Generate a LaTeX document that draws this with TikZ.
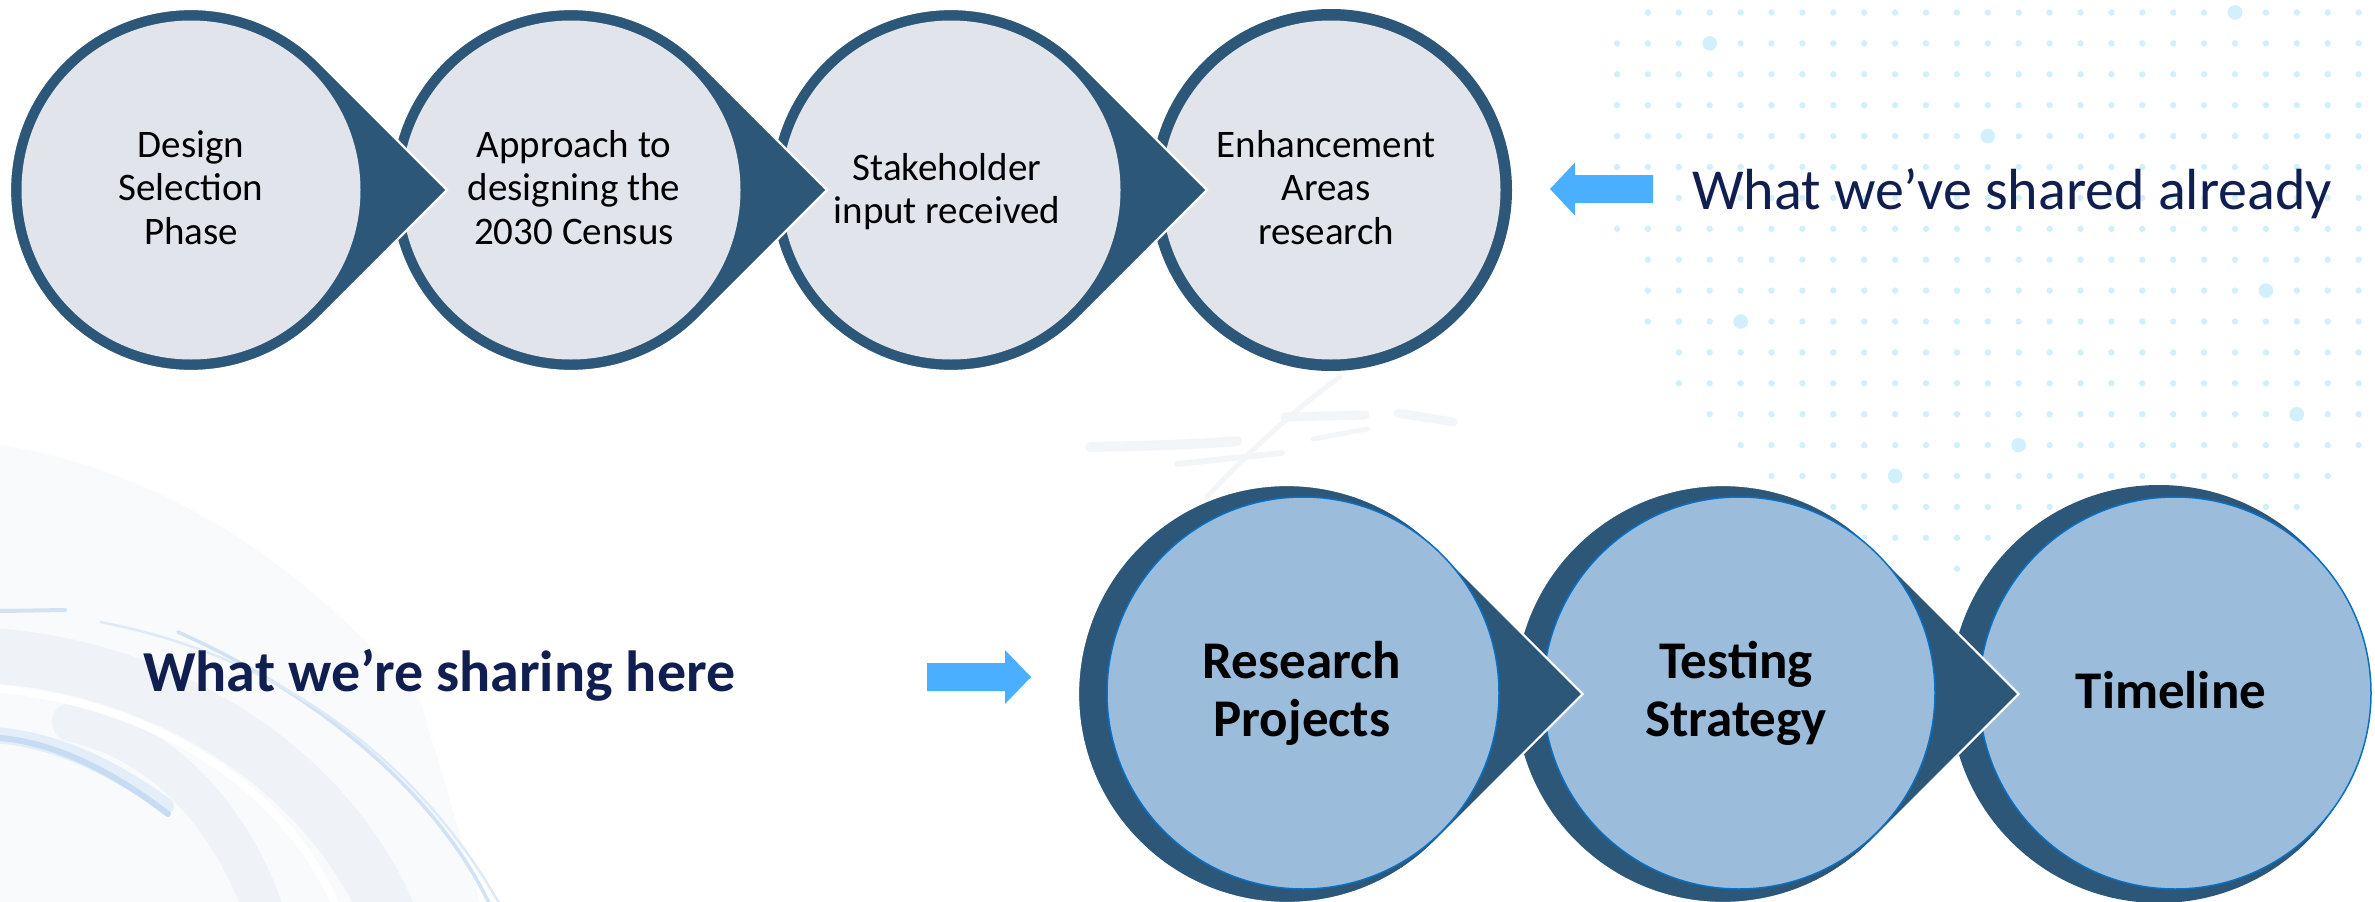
\documentclass[tikz,border=0pt]{standalone}
\usepackage{fontspec}
\setmainfont{Carlito}
\definecolor{darkb}{HTML}{2D5779}
\definecolor{topfill}{HTML}{E1E5EB}
\definecolor{botfill}{HTML}{9BBCDB}
\definecolor{botline}{HTML}{0A70C4}
\definecolor{arrowb}{HTML}{4AAFFF}
\definecolor{navy}{HTML}{111F50}
\definecolor{dotc}{HTML}{D2EFFC}
\definecolor{bandg}{HTML}{EFF2F6}
\definecolor{bandl}{HTML}{F9FAFC}
\definecolor{lineb}{HTML}{D0E2F4}
\definecolor{streak}{HTML}{F3F6F9}
\newcommand\ChevCirc[4]{% name, cx, cy, r
  \coordinate (#1) at (#2,#3);
  \fill[darkb, draw=white, line width=2.2, line join=miter]
    ({#2+#4*0.7071},{#3-#4*0.7071}) -- ({#2+#4*1.4142},{#3})
    -- ({#2+#4*0.7071},{#3+#4*0.7071})
    arc[start angle=45, end angle=315, radius=#4] -- cycle;
}
\newcommand\PlainCirc[4]{% name, cx, cy, r
  \coordinate (#1) at (#2,#3);
  \fill[darkb] (#1) circle (#4);
}
\tikzset{
  topin/.style={circle, fill=topfill, minimum size=339, inner sep=0, outer sep=0},
  botin/.style={circle, fill=botfill, draw=botline, line width=1.5, minimum size=392, inner sep=0, outer sep=0},
  tl/.style={anchor=base, inner sep=0, font=\fontsize{39}{47}\selectfont, text=black},
  bl/.style={anchor=base, inner sep=0, font=\bfseries\fontsize{53}{60}\selectfont, text=black},
  blockarrow/.style={fill=arrowb},
  sdot/.style={fill=dotc},
}
\begin{document}
\begin{tikzpicture}[x=1pt,y=-1pt]
\useasboundingbox (0,0) rectangle (2375,902);
\fill[white] (0,0) rectangle (2375,902);

% ---- faint background decoration (bottom left) ----
\fill[bandl] (0,445) .. controls (160,470) and (300,560) .. (420,700) -- (480,902) -- (0,902) -- cycle;
\draw[bandg, line width=55] (-20,655) .. controls (150,662) and (330,760) .. (395,930);
\draw[bandg, line width=40, line cap=round] (72,722) .. controls (160,740) and (235,815) .. (270,930);
\draw[white, line width=8] (-10,688) .. controls (150,700) and (300,790) .. (345,930);
\draw[lineb, line width=3.5, line cap=round] (178,632) .. controls (330,700) and (440,800) .. (490,905);
\draw[lineb!70, line width=2.5] (100,622) .. controls (300,660) and (430,780) .. (500,905);
\draw[lineb, line width=4, line cap=round] (0,611) -- (65,610);
\draw[lineb!60, line width=16, line cap=round] (-5,735) .. controls (60,740) and (120,772) .. (166,806);
\draw[lineb!120, line width=6, line cap=round] (0,738) .. controls (60,743) and (120,777) .. (168,814);

% ---- faint streaks (middle) ----
\draw[streak, line width=10, line cap=round] (1090,447) .. controls (1140,446) and (1190,445) .. (1237,441);
\draw[streak, line width=6, line cap=round] (1177,464) -- (1282,453);
\draw[streak, line width=9, line cap=round] (1285,417) -- (1365,415);
\draw[streak, line width=5, line cap=round] (1313,439) -- (1367,429);
\draw[streak, line width=9, line cap=round] (1398,413) -- (1453,422);
\draw[streak, line width=5, line cap=round] (1207,497) .. controls (1250,450) and (1300,405) .. (1340,377);

% ---- dot grid (top right) ----
\foreach \j/\a/\b in {0/1/24,1/0/24,2/0/24,3/0/24,4/0/24,5/0/24,6/0/24,7/0/24,8/1/24,9/1/24,10/1/24,11/2/24,12/2/24,13/3/24,14/4/24,15/5/23,16/7/22,17/8/12,18/11/11}{
  \foreach \k in {\a,...,\b}{
    \fill[sdot] ({1617+30.9*\k},{12.5+30.9*\j}) circle (3.2);
  }
}
\foreach \j/\k in {0/20,1/3,4/12,9/21,10/4,13/22,14/13,15/9}{
  \fill[sdot] ({1617+30.9*\k},{12.5+30.9*\j}) circle (7.3);
}

% ---- block arrows ----
\fill[blockarrow] (1653,175) -- (1575,175) -- (1575,162.5) -- (1550,189) -- (1575,215.5) -- (1575,203) -- (1653,203) -- cycle;
\fill[blockarrow] (927,663) -- (1005,663) -- (1005,650) -- (1031,677) -- (1005,704) -- (1005,691) -- (927,691) -- cycle;

% ---- top row (drawn right to left) ----
\PlainCirc{s4}{1331}{190}{181}
\node[topin] (c4) at (1331,190) {};
\ChevCirc{s3}{951}{190}{181}
\node[topin] (c3) at (951,190) {};
\ChevCirc{s2}{571}{190}{181}
\node[topin] (c2) at (571,190) {};
\ChevCirc{s1}{191}{190}{181}
\node[topin] (c1) at (191,190) {};

\node[tl] (c1a) at (191,157) {Design};
\node[tl] (c1b) at (191,200.5) {Selection};
\node[tl] (c1c) at (191,244) {Phase};
\node[tl] (c2a) at (574,157) {Approach to};
\node[tl] (c2b) at (574,200.5) {designing the};
\node[tl] (c2c) at (574,244) {2030 Census};
\node[tl] (c3a) at (947,180) {Stakeholder};
\node[tl] (c3b) at (947,223) {input received};
\node[tl] (c4a) at (1326,157) {Enhancement};
\node[tl] (c4b) at (1326,200.5) {Areas};
\node[tl] (c4c) at (1326,244) {research};

% ---- bottom row (drawn right to left) ----
\PlainCirc{sC}{2159}{694}{209}
\node[botin] (rC) at (2175,693) {};
\ChevCirc{sB}{1723}{694}{209}
\node[botin] (rB) at (1739,693) {};
\ChevCirc{sA}{1287}{694}{209}
\node[botin] (rA) at (1303,693) {};

\node[bl] (rAa) at (1302,678) {Research};
\node[bl] (rAb) at (1302,736) {Projects};
\node[bl] (rBa) at (1736,678) {Testing};
\node[bl] (rBb) at (1736,736) {Strategy};
\node[bl] (rCa) at (2171,708) {Timeline};

% ---- captions ----
\node[anchor=base west, inner sep=0, font=\fontsize{58}{70}\selectfont, text=navy] (shared) at (1692,209) {What we’ve shared already};
\node[anchor=base west, inner sep=0, font=\bfseries\fontsize{58}{70}\selectfont, text=navy] (sharing) at (143,691) {What we’re sharing here};
\end{tikzpicture}
\end{document}
